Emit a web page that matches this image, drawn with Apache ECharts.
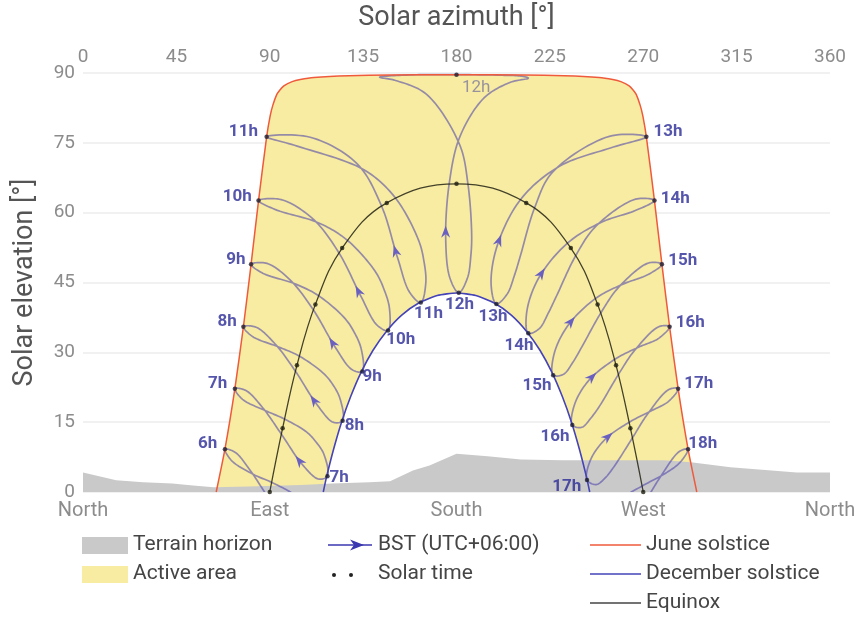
<!DOCTYPE html>
<html>
<head>
<meta charset="utf-8">
<title>Sun path</title>
<script src="https://cdn.jsdelivr.net/npm/echarts@6/dist/echarts.min.js"></script>
<style>
  html, body { margin: 0; padding: 0; background: #fff; }
  #chart { width: 859px; height: 617px; }
</style>
</head>
<body>
<div id="chart"></div>
<script>
// bottom axis names, one per 90 degrees
const directions = ['North', 'East', 'South', 'West', 'North']

// terrain horizon [azimuth, elevation]
const terrainAz = [0, 16, 29, 43, 53, 63, 80, 105, 120, 138, 148, 159, 167, 180, 195, 211, 231, 262, 280, 293, 312, 344, 360]
const terrainEl = [4.2, 2.5, 2.1, 1.8, 1.4, 1.0, 1.2, 1.5, 1.8, 2.1, 2.3, 4.6, 5.7, 8.2, 7.7, 7.0, 6.8, 6.8, 6.8, 6.4, 5.3, 4.2, 4.2]

// sun paths [azimuth, elevation]
const juneCurve = [[64.2, 0], [68.4, 9.2], [73.2, 22.2], [77.3, 35.5], [81.0, 48.9], [84.6, 62.6], [88.5, 76.3], [90.2, 80.8],
  [91.5, 83.1], [93.4, 85.4], [94.8, 86.3], [96.8, 87.25], [100.8, 88.15], [104.7, 88.6], [111.3, 89.04], [128.1, 89.42],
  [147.5, 89.57], [180, 89.64], [212.5, 89.57], [231.9, 89.42], [248.7, 89.04], [255.3, 88.6], [259.2, 88.15], [263.2, 87.25],
  [265.2, 86.3], [266.6, 85.4], [268.5, 83.1], [269.8, 80.8], [271.5, 76.3], [275.4, 62.6], [279.0, 48.9], [282.7, 35.5],
  [286.8, 22.2], [291.6, 9.2], [295.8, 0]]
const decemberCurve = [[115.8, 0], [117.4, 3.3], [120.8, 9.25], [124.6, 15.0], [129.0, 20.5], [134.0, 25.7], [139.7, 30.4],
  [146.2, 34.5], [153.6, 38.0], [161.8, 40.6], [170.7, 42.2], [180, 42.76], [189.3, 42.2], [198.2, 40.6], [206.4, 38.0],
  [213.8, 34.5], [220.3, 30.4], [226.0, 25.7], [231.0, 20.5], [235.4, 15.0], [239.2, 9.25], [242.6, 3.3], [244.2, 0]]
// equinox path, one point per solar hour 6h..18h
const equinox = [[90, 0], [96.2, 13.7], [103.1, 27.2], [112.0, 40.3], [124.9, 52.4], [146.4, 62.1], [180, 66.2],
  [213.6, 62.1], [235.1, 52.4], [248.0, 40.3], [256.9, 27.2], [263.8, 13.7], [270, 0]]

// analemmas at clock hours (BST): Jun, Jul, Sep, Sep, Oct, Nov, Nov, Dec, Jan, Feb, Mar, Apr, May, Jun
const a06 = [[68.4, 9.2], [71.7, 6.7], [82.5, 3.7], [90.8, 2.1], [101.3, -0.4], [105.8, -2.1], [109.9, -4.6], [111.9, -8.5], [107.7, -10.1], [99.6, -7.5], [89.3, -1.2], [80.8, 4.5], [73.4, 8.5], [68.4, 9.2]]
const a07 = [[73.2, 22.2], [76.9, 19.9], [88.3, 17.4], [97.0, 15.7], [107.7, 12.9], [112.2, 10.8], [116.1, 8.1], [117.8, 3.4], [113.4, 2.8], [105.7, 5.9], [95.5, 12.5], [86.6, 18.1], [78.5, 21.8], [73.2, 22.2]]
const a08 = [[77.3, 35.5], [81.7, 33.4], [94.6, 31.1], [104.2, 29.2], [115.6, 25.6], [120.2, 23.2], [123.9, 20.0], [125.1, 15.3], [120.5, 15.0], [112.7, 18.8], [102.3, 26.0], [92.6, 31.8], [83.4, 35.4], [77.3, 35.5]]
const a09 = [[81.0, 48.9], [86.6, 47.0], [102.2, 44.7], [113.4, 42.2], [126.0, 37.4], [130.6, 34.4], [134.1, 30.7], [134.6, 25.9], [129.6, 26.3], [121.7, 31.0], [110.9, 39.2], [99.9, 45.5], [88.7, 49.1], [81.0, 48.9]]
const a10 = [[84.6, 62.6], [92.5, 60.7], [113.6, 57.8], [127.3, 54.1], [140.8, 47.4], [145.0, 43.6], [147.7, 39.4], [147.0, 34.7], [141.6, 35.9], [134.1, 41.9], [123.3, 51.4], [110.7, 58.7], [95.5, 62.8], [84.6, 62.6]]
const a11 = [[88.5, 76.3], [103.2, 74.3], [135.4, 69.2], [150.5, 63.2], [161.7, 54.1], [164.3, 49.6], [165.2, 44.9], [162.8, 40.7], [157.4, 42.9], [151.6, 50.3], [143.8, 61.5], [131.9, 70.6], [109.5, 76.2], [88.5, 76.3]]
const a12 = [[180, 89.64], [155.8, 89.56], [143, 89.1], [150.6, 88.4], [165.6, 85.4], [181.5, 74.6], [185.5, 66.2], [187.3, 55.5], [186.9, 50.7], [185.3, 46.0], [181.1, 42.8],
  [176.8, 46.0], [174.8, 54.3], [176.5, 66.3], [181.7, 76.4], [193.4, 84.7], [206, 88.0], [214.6, 88.9], [211.7, 89.3], [200.4, 89.54], [180, 89.64]]
const a13 = [[271.5, 76.3], [253.7, 76.4], [226.3, 68.7], [217.6, 61.0], [210.9, 50.9], [207.9, 46.5], [204.4, 42.5], [199.2, 40.4], [196.7, 44.4], [199.4, 52.6], [211.0, 62.9], [229.8, 70.0], [254.2, 73.9], [271.5, 76.3]]
const a14 = [[275.4, 62.6], [266.3, 62.9], [247.2, 57.1], [237.5, 50.8], [228.2, 42.1], [224.2, 38.4], [219.9, 35.1], [214.6, 34.1], [213.8, 38.5], [219.4, 45.8], [233.6, 53.5], [250.1, 58.0], [265.9, 60.4], [275.4, 62.6]]
const a15 = [[279.0, 48.9], [272.6, 49.2], [258.2, 44.0], [249.6, 38.5], [240.2, 31.0], [236.0, 27.8], [231.6, 25.3], [226.6, 25.1], [227.0, 29.6], [233.6, 35.7], [247.1, 41.6], [260.5, 44.7], [272.3, 46.7], [279.0, 48.9]]
const a16 = [[282.7, 35.5], [277.5, 35.5], [265.8, 30.4], [258.1, 25.3], [249.0, 18.5], [244.8, 15.9], [240.4, 13.9], [235.8, 14.4], [236.9, 18.8], [243.8, 24.0], [256.3, 28.5], [267.7, 31.1], [277.4, 33.0], [282.7, 35.5]]
const a17 = [[286.8, 22.2], [282.3, 22.0], [272.0, 16.7], [264.9, 11.7], [256.0, 5.5], [251.8, 3.1], [247.3, 1.6], [242.9, 2.6], [244.5, 6.8], [251.6, 11.3], [263.3, 15.0], [273.7, 17.4], [282.3, 19.5], [286.8, 22.2]]
const a18 = [[291.6, 9.2], [287.4, 8.7], [277.9, 3.0], [271.0, -2.0], [262.0, -8.0], [257.6, -10.1], [253.0, -11.3], [248.7, -10.0], [250.6, -5.9], [258.0, -1.9], [269.5, 1.3], [279.5, 3.7], [287.6, 6.3], [291.6, 9.2]]

const hourNames = ['6h', '7h', '8h', '9h', '10h', '11h', '12h', '13h', '14h', '15h', '16h', '17h', '18h']
const analemmas = [a06, a07, a08, a09, a10, a11, a12, a13, a14, a15, a16, a17, a18]
// index of the December point and of the February point (arrow) in each analemma
const decIndex = [7, 7, 7, 7, 7, 7, 10, 7, 7, 7, 7, 7, 7]
const arrowFrom = [9, 9, 9, 9, 9, 9, 12, 9, 9, 9, 9, 9, 9]

// label offsets (px, centre of text relative to the dot)
const juneLabelOff = [[-17, -5], [-17, -5], [-16, -5], [-15, -4], [-21, -4], [-23, -5], [20, 13],
  [22, -5], [21, -2], [21, -3], [21, -4], [21, -5], [15, -5]]
const decLabelOff = [null, [12, 2], [12, 5], [10, 6], [13, 10], [8, 11], [1, 12],
  [-3, 13], [-9, 13], [-16, 11], [-17, 12], [-20, 7], null]

const LABEL_BLUE = '#2b2a97'
const ANALEMMA = 'rgba(70, 60, 170, 0.55)'
const FONT = 'Roboto'
const STEPS = 14

// closed centripetal Catmull-Rom through pixel points, returned per segment
function loopSegments(px) {
  const p = px.slice(0, px.length - 1)
  const n = p.length
  const segs = []
  for (let i = 0; i < n; i++) {
    const P0 = p[(i - 1 + n) % n], P1 = p[i], P2 = p[(i + 1) % n], P3 = p[(i + 2) % n]
    const d = (a, b) => Math.max(Math.pow(Math.hypot(b[0] - a[0], b[1] - a[1]), 0.5), 1e-4)
    const t0 = 0, t1 = t0 + d(P0, P1), t2 = t1 + d(P1, P2), t3 = t2 + d(P2, P3)
    const seg = []
    for (let s = 0; s <= STEPS; s++) {
      const t = t1 + (t2 - t1) * s / STEPS
      const mix = (A, B, ta, tb) => [
        ((tb - t) * A[0] + (t - ta) * B[0]) / (tb - ta),
        ((tb - t) * A[1] + (t - ta) * B[1]) / (tb - ta)
      ]
      const A1 = mix(P0, P1, t0, t1), A2 = mix(P1, P2, t1, t2), A3 = mix(P2, P3, t2, t3)
      const B1 = mix(A1, A2, t0, t2), B2 = mix(A2, A3, t1, t3)
      seg.push(mix(B1, B2, t1, t2))
    }
    segs.push(seg)
  }
  return segs
}

function hourLabel(text, off, color, weight) {
  return {
    show: true,
    formatter: text,
    position: [2 + off[0], 2 + off[1]],
    align: 'center',
    verticalAlign: 'middle',
    fontFamily: FONT,
    fontSize: 17,
    fontWeight: weight,
    color: color
  }
}

const chart = echarts.init(document.getElementById('chart'))

const juneDots = analemmas.map((a, i) => ({
  value: a[0],
  label: i === 6
    ? hourLabel(hourNames[i], juneLabelOff[i], '#7f7c9c', 'normal')
    : hourLabel(hourNames[i], juneLabelOff[i], LABEL_BLUE, 'bold')
}))
const decDots = []
analemmas.forEach((a, i) => {
  if (decLabelOff[i]) decDots.push({ value: a[decIndex[i]], label: hourLabel(hourNames[i], decLabelOff[i], LABEL_BLUE, 'bold') })
})

const legendText = (x, y, text) => ({
  type: 'text', x: x, y: y,
  style: { text: text, fill: '#454545', font: '21px Roboto', textVerticalAlign: 'middle', verticalAlign: 'middle' }
})

chart.setOption({
  animation: false,
  textStyle: { fontFamily: FONT },
  grid: { left: 83, right: 29, top: 72, bottom: 125 },
  xAxis: [
    {
      type: 'value', position: 'top', min: 0, max: 360, interval: 45,
      name: 'Solar azimuth [°]', nameLocation: 'middle', nameGap: 41,
      nameTextStyle: { fontSize: 27, color: '#555' },
      axisLine: { show: false }, axisTick: { show: false }, splitLine: { show: false },
      axisLabel: { fontSize: 19, color: '#8c8c8c', margin: 6 }
    },
    {
      type: 'value', position: 'bottom', min: 0, max: 360, interval: 90,
      axisLine: { show: false }, axisTick: { show: false }, splitLine: { show: false },
      axisLabel: {
        fontSize: 20, color: '#8c8c8c', margin: 9, showMinLabel: true, showMaxLabel: true,
        formatter: v => directions[Math.round(v / 90)]
      }
    }
  ],
  yAxis: {
    type: 'value', min: 0, max: 90, interval: 15,
    name: 'Solar elevation [°]', nameLocation: 'middle', nameGap: 44, nameRotate: 90,
    nameTextStyle: { fontSize: 27, color: '#555' },
    axisLine: { show: false }, axisTick: { show: false },
    splitLine: { lineStyle: { color: '#ececec', width: 1.5 } },
    axisLabel: { fontSize: 19, color: '#8c8c8c', margin: 8 }
  },
  series: [
    {
      name: 'Active area',
      type: 'custom',
      data: [[180, 45]],
      z: 1,
      silent: true,
      renderItem: function (params, api) {
        const pts = juneCurve.concat(decemberCurve.slice().reverse()).map(p => api.coord(p))
        return { type: 'polygon', shape: { points: pts }, style: { fill: '#f8eca2' } }
      }
    },
    {
      name: 'Terrain horizon',
      type: 'line',
      data: terrainAz.map((az, i) => [az, terrainEl[i]]),
      symbol: 'none',
      silent: true,
      z: 2,
      lineStyle: { width: 0 },
      areaStyle: { color: '#c9c9c9', opacity: 1 }
    },
    {
      name: 'BST (UTC+06:00)',
      type: 'custom',
      data: analemmas.map((a, i) => [a[0][0], a[0][1], i]),
      z: 3,
      silent: true,
      renderItem: function (params, api) {
        const k = api.value(2)
        const segs = loopSegments(analemmas[k].map(p => api.coord(p)))
        const pts = []
        segs.forEach((s, i) => s.forEach((q, j) => { if (i === 0 || j > 0) pts.push(q) }))
        const children = [{
          type: 'polyline',
          shape: { points: pts },
          style: { stroke: ANALEMMA, lineWidth: 1.7, fill: null }
        }]
        // direction arrow on the January-to-June branch
        const seg = segs[arrowFrom[k]]
        const c = seg[2], ahead = seg[4], behind = seg[0]
        const sp = api.coord([0, 0])
        if (c[1] < sp[1] - 3) {
          const dx = ahead[0] - behind[0], dy = ahead[1] - behind[1]
          const len = Math.hypot(dx, dy)
          const ux = dx / len, uy = dy / len
          const L = 12, W = 4.5
          const tip = [c[0] + ux * L / 2, c[1] + uy * L / 2]
          const bx = c[0] - ux * L / 2, by = c[1] - uy * L / 2
          const notch = [c[0] - ux * L * 0.2, c[1] - uy * L * 0.2]
          children.push({
            type: 'polygon',
            shape: { points: [tip, [bx - uy * W, by + ux * W], notch, [bx + uy * W, by - ux * W]] },
            style: { fill: '#6a60c0' }
          })
        }
        const cs = params.coordSys
        return {
          type: 'group',
          clipPath: { type: 'rect', shape: { x: cs.x, y: cs.y, width: cs.width, height: cs.height } },
          children: children
        }
      }
    },
    {
      name: 'June solstice',
      type: 'line', data: juneCurve, symbol: 'none', silent: true, z: 4, smooth: 0.2,
      lineStyle: { color: '#ef5a3c', width: 1.5 }
    },
    {
      name: 'December solstice',
      type: 'line', data: decemberCurve, symbol: 'none', silent: true, z: 4, smooth: 0.2,
      lineStyle: { color: '#4543b8', width: 1.6 }
    },
    {
      name: 'Equinox',
      type: 'line', data: equinox, symbol: 'none', silent: true, z: 4, smooth: 0.4,
      lineStyle: { color: 'rgba(35, 35, 20, 0.85)', width: 1.3 }
    },
    {
      name: 'Solar time',
      type: 'scatter', data: equinox, symbolSize: 4.5, silent: true, z: 6,
      itemStyle: { color: '#1e1e10' }
    },
    {
      name: 'June hours',
      type: 'scatter', data: juneDots, symbolSize: 4.5, silent: true, z: 6,
      itemStyle: { color: '#1e1e30' }
    },
    {
      name: 'December hours',
      type: 'scatter', data: decDots, symbolSize: 4.5, silent: true, z: 6,
      itemStyle: { color: '#1e1e30' }
    }
  ],
  graphic: [
    { type: 'rect', shape: { x: 82, y: 537, width: 46, height: 17 }, style: { fill: '#c9c9c9' } },
    legendText(133, 545, 'Terrain horizon'),
    { type: 'rect', shape: { x: 82, y: 566, width: 46, height: 17 }, style: { fill: '#f8eca2' } },
    legendText(133, 574, 'Active area'),
    { type: 'line', shape: { x1: 328, y1: 545, x2: 372, y2: 545 }, style: { stroke: '#3a37b0', lineWidth: 1.6 } },
    { type: 'polygon', shape: { points: [[364, 545], [350, 539.5], [354, 545], [350, 550.5]] }, style: { fill: '#3a37b0' } },
    legendText(378, 545, 'BST (UTC+06:00)'),
    { type: 'circle', shape: { cx: 334, cy: 575, r: 2 }, style: { fill: '#222' } },
    { type: 'circle', shape: { cx: 351, cy: 575, r: 2 }, style: { fill: '#222' } },
    legendText(378, 574, 'Solar time'),
    { type: 'line', shape: { x1: 590, y1: 545, x2: 641, y2: 545 }, style: { stroke: '#ef5a3c', lineWidth: 1.6 } },
    legendText(646, 545, 'June solstice'),
    { type: 'line', shape: { x1: 590, y1: 574, x2: 641, y2: 574 }, style: { stroke: '#4543b8', lineWidth: 1.6 } },
    legendText(646, 574, 'December solstice'),
    { type: 'line', shape: { x1: 590, y1: 603, x2: 641, y2: 603 }, style: { stroke: '#444', lineWidth: 1.6 } },
    legendText(646, 603, 'Equinox')
  ]
})
</script>
</body>
</html>
